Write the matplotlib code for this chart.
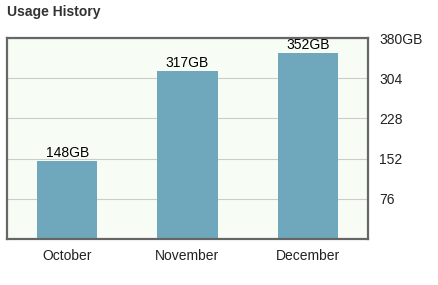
import matplotlib
matplotlib.use("Agg")
import matplotlib.pyplot as plt

plt.rcParams["font.family"] = ["Liberation Sans", "DejaVu Sans"]

months = ["October", "November", "December"]
usage_gb = [148, 317, 352]
y_ticks = [76, 152, 228, 304, 380]
y_tick_labels = ["76", "152", "228", "304", "380GB"]

fig = plt.figure(figsize=(4.38, 2.85), dpi=100)
ax = fig.add_axes([7 / 438, 1 - 239 / 285, 361 / 438, 201 / 285])
ax.set_facecolor("#f7fcf5")

x = range(len(months))
ax.bar(x, usage_gb, width=0.5, color="#6fa8bc", zorder=2)
for xi, v in zip(x, usage_gb):
    ax.text(xi, v + 2, f"{v}GB", ha="center", va="bottom", fontsize=10, color="black")

ax.set_xlim(-0.5, 2.5)
ax.set_ylim(0, 380)
ax.set_xticks(list(x))
ax.set_xticklabels(months, fontsize=10, color="#222222")
ax.yaxis.tick_right()
ax.set_yticks(y_ticks)
ax.set_yticklabels(y_tick_labels, fontsize=10, color="#222222")
ax.tick_params(length=0, pad=7)
ax.tick_params(axis="y", pad=8)
ax.grid(axis="y", color="#cccccc", linewidth=0.8, zorder=0)
for s in ax.spines.values():
    s.set_color("#666666")
    s.set_linewidth(1.6)

fig.text(7 / 438, 1 - 12 / 285, "Usage History", fontsize=10, fontweight="bold",
         color="#333333", ha="left", va="center")

fig.savefig("out.png", dpi=100)
